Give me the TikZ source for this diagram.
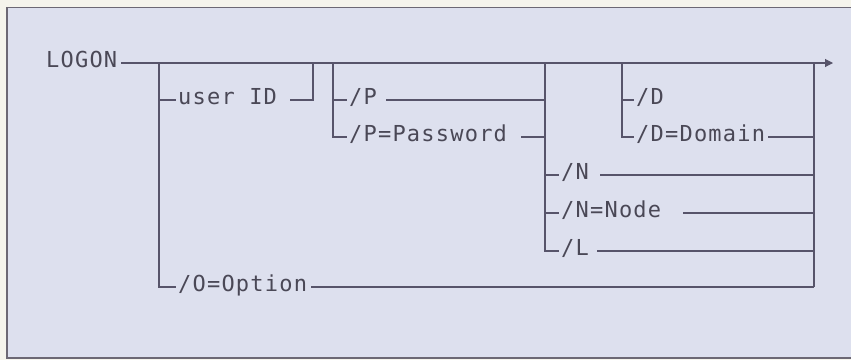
\documentclass[tikz,border=0pt]{standalone}
\usepackage{fontspec}
\usetikzlibrary{arrows.meta, positioning, calc}
\newfontfamily\syntaxfont[LetterSpace=5.5]{DejaVu Sans Mono}

\definecolor{paper}{HTML}{F5F4EC}
\definecolor{panel}{HTML}{DDE0EE}
\definecolor{rim}{HTML}{6C6874}
\definecolor{rail}{HTML}{57546A}
\definecolor{ink}{HTML}{4A4856}

\begin{document}
\begin{tikzpicture}[x=1pt, y=-1pt, >={Triangle[length=8pt, width=8pt]},
    kw/.style={anchor=west, inner sep=0pt, text height=9pt, text depth=0pt,
               font=\syntaxfont\fontsize{22}{22}\selectfont, text=ink},
    track/.style={draw=rail, line width=1.1pt}]
  \useasboundingbox (0,0) rectangle (851,360);
  \clip (0,0) rectangle (851,360);

  % Panel
  \fill[paper] (0,0) rectangle (851,360);
  \draw[rim, fill=panel, line width=1.2pt] (7,7.5) rectangle (880,358);

  % Junction points on the main line
  \coordinate (c1) at (159,63);
  \coordinate (c2) at (313,63);
  \coordinate (c3) at (333,63);
  \coordinate (c4) at (545,63);
  \coordinate (c5) at (622,63);
  \coordinate (c6) at (814,63);
  \coordinate (end) at (833,63);

  % Keywords
  \node[kw] (logon) at (46,63) {LOGON};
  \node[kw] (user) at (178,100) {user ID};
  \node[kw] (popt) at (349,100) {/P};
  \node[kw] (pword) at (349,137) {/P=Password};
  \node[kw] (nopt) at (561,175) {/N};
  \node[kw] (nnode) at (561,213) {/N=Node};
  \node[kw] (lopt) at (561,251) {/L};
  \node[kw] (dopt) at (636,100) {/D};
  \node[kw] (ddom) at (636,137) {/D=Domain};
  \node[kw] (oopt) at (178,287) {/O=Option};

  % Main line
  \draw[track, ->] ([xshift=4pt]logon.east) -- (end);

  % Left stack: user ID and /O=Option
  \draw[track] (c1) |- ([xshift=-2pt]oopt.west);
  \draw[track] (c1 |- user.west) -- ([xshift=-2pt]user.west);
  \draw[track] ([xshift=13pt]user.east) -| (c2);

  % Password stack
  \draw[track] (c3) |- ([xshift=-2pt]pword.west);
  \draw[track] (c3 |- popt.west) -- ([xshift=-2pt]popt.west);
  \draw[track] ([xshift=9pt]popt.east) -- (c4 |- popt.west);
  \draw[track] ([xshift=14pt]pword.east) -- (c4 |- pword.west);

  % Node stack
  \draw[track] (c4) |- ([xshift=-2pt]lopt.west);
  \draw[track] (c4 |- nopt.west) -- ([xshift=-2pt]nopt.west);
  \draw[track] (c4 |- nnode.west) -- ([xshift=-2pt]nnode.west);
  \draw[track] ([xshift=11pt]nopt.east) -- (c6 |- nopt.west);
  \draw[track] ([xshift=22pt]nnode.east) -- (c6 |- nnode.west);
  \draw[track] ([xshift=8pt]lopt.east) -- (c6 |- lopt.west);

  % Domain stack
  \draw[track] (c5) |- ([xshift=-2pt]ddom.west);
  \draw[track] (c5 |- dopt.west) -- ([xshift=-2pt]dopt.west);
  \draw[track] ([xshift=3pt]ddom.east) -- (c6 |- ddom.west);

  % Right return
  \draw[track] (c6) -- (c6 |- oopt.west);
  \draw[track] ([xshift=4pt]oopt.east) -- (c6 |- oopt.west);
\end{tikzpicture}
\end{document}
